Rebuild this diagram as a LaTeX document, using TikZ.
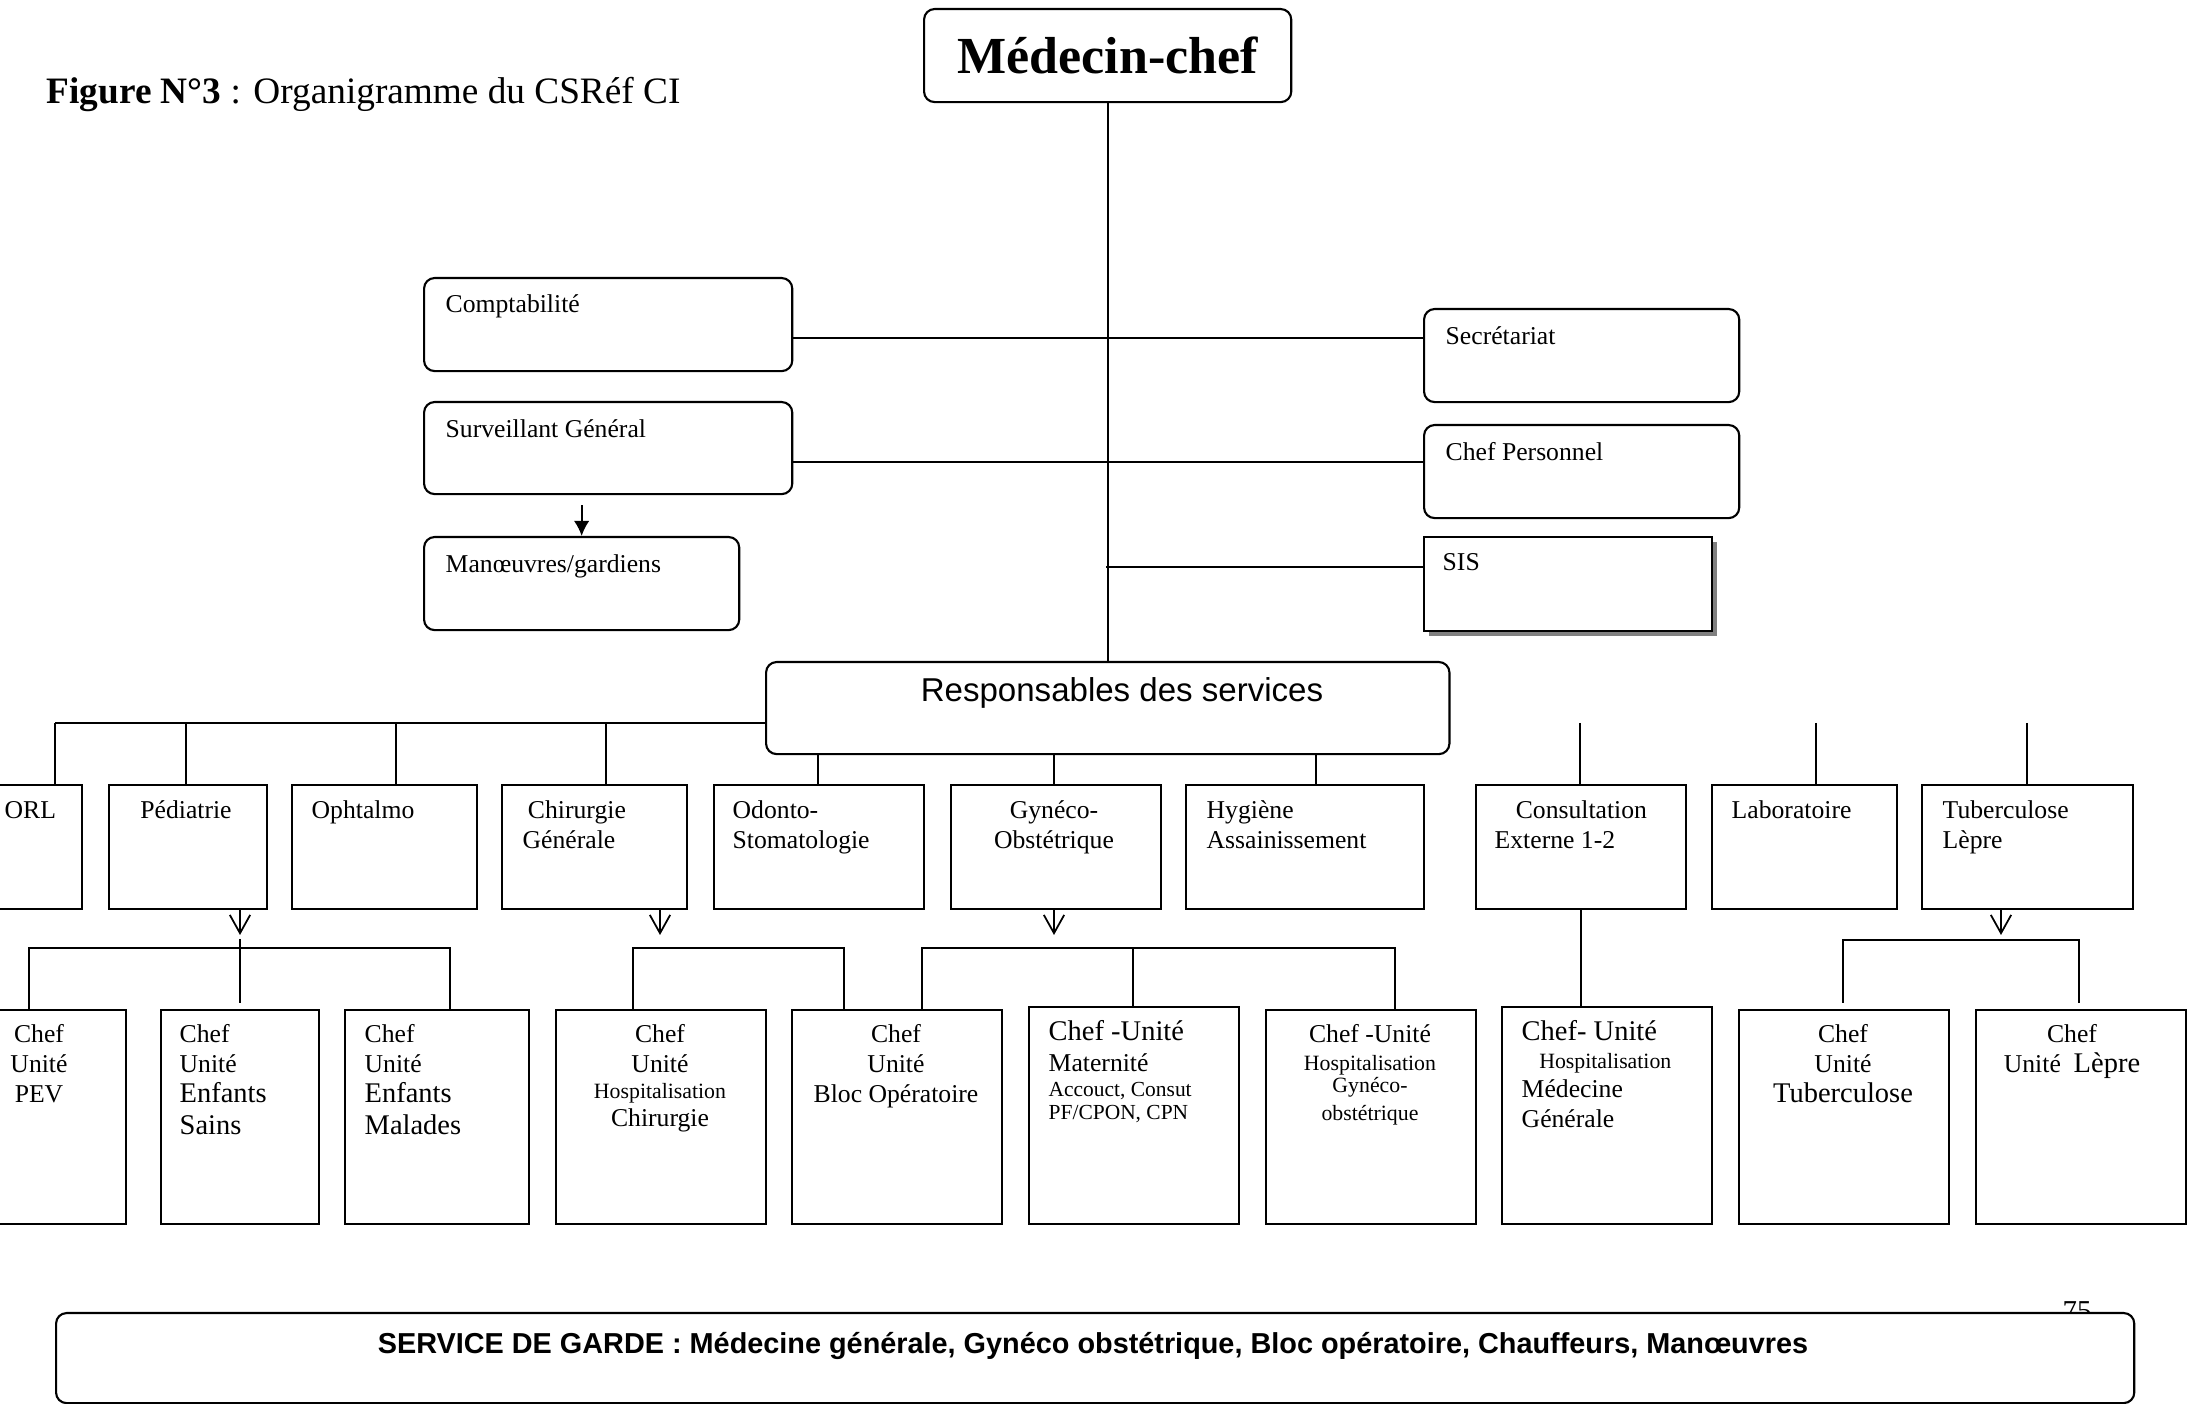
\documentclass[tikz,border=0pt]{standalone}
\usepackage{fontspec}
\setmainfont{Liberation Serif}
\setsansfont{Liberation Sans}
\usetikzlibrary{arrows.meta,shadows}

\newcommand{\fn}{\fontsize{7.3}{8.4}\selectfont}
\newcommand{\fg}{\fontsize{8.1}{8.4}\selectfont}
\newcommand{\fp}{\fontsize{6.2}{7}\selectfont}
\newcommand{\fs}{\fontsize{6.1}{7}\selectfont}
\newcommand{\rows}[2]{\begin{tabular}[t]{@{}#1@{}}#2\end{tabular}}

\begin{document}
\begin{tikzpicture}[x=0.01cm, y=-0.01cm,
    rbox/.style={draw, line width=0.6pt, rounded corners=3pt, anchor=north west, inner sep=0pt, minimum height=0.93cm},
    sbox/.style={draw, line width=0.6pt, anchor=north west, inner sep=0pt},
    lbl/.style={font=\fn, inner sep=0pt, anchor=base west},
    clbl/.style={lbl, anchor=base},
    link/.style={line width=0.5pt},
    vtip/.style={-{Straight Barb[length=5.2pt, width=5.8pt]}}]

    \useasboundingbox (0,0) rectangle (2196,1404);
    \clip (0,0) rectangle (2196,1404);

    % Title and head
    \node[font=\fontsize{10.6}{12}\selectfont, inner sep=0pt, anchor=base west] (TI) at (46,104) {\textbf{Figure N°3} : Organigramme du CSRéf CI};
    \node[rbox, minimum width=3.67cm, font=\fontsize{14.8}{17}\selectfont\bfseries] (MC) at (923,8) {Médecin-chef};

    % Draw the staff boxes
    \node[rbox, minimum width=3.68cm] (CPT) at (423,277) {};
    \node[rbox, minimum width=3.68cm, minimum height=0.92cm] (SUR) at (423,401) {};
    \node[rbox, minimum width=3.15cm] (MAN) at (423,536) {};
    \node[rbox, minimum width=3.15cm] (SEC) at (1423,308) {};
    \node[rbox, minimum width=3.15cm] (CHP) at (1423,424) {};
    \node[sbox, minimum width=2.88cm, minimum height=0.94cm, fill=white,
        drop shadow={shadow xshift=1.4pt, shadow yshift=-1.4pt, fill=black!50, opacity=1}] (SIS) at (1423,536) {};

    \node[lbl] (CPTt) at (445,313) {Comptabilité};
    \node[lbl] (SURt) at (445,438) {Surveillant Général};
    \node[lbl] (MANt) at (445,573) {Manœuvres/gardiens};
    \node[lbl] (SECt) at (1445,345) {Secrétariat};
    \node[lbl] (CHPt) at (1445,461) {Chef Personnel};
    \node[lbl] (SISt) at (1442,571) {SIS};

    \node[rbox, minimum width=6.83cm, minimum height=0.92cm] (RS) at (765,661) {};
    \node[font=\sffamily\fontsize{9.4}{11}\selectfont, inner sep=0pt, anchor=base] (RSt) at (1122,702) {Responsables des services};

    % Draw the trunk
    \coordinate (T1) at (1106,338);
    \coordinate (T2) at (1106,462);
    \coordinate (T3) at (1106,567);
    \draw[link] (MC.south) -- (MC.south |- RS.north);
    \draw[link] (CPT.east |- T1) -- (SEC.west |- T1);
    \draw[link] (SUR.east |- T2) -- (CHP.west |- T2);
    \draw[link] (T3) -- (SIS.west |- T3);
    \draw[link, -{Latex[length=4.3pt, width=4.4pt]}] (SUR.south -| MAN.north) ++(0,10) -- (MAN.north);

    % Draw the services
    \foreach \n/\x/\w in {ORL/-40/1.21cm, PED/108/1.58cm, OPH/291/1.85cm, CHI/501/1.85cm, ODO/713/2.10cm,
                          GYN/950/2.10cm, HYG/1185/2.38cm, CON/1475/2.10cm, LAB/1711/1.85cm, TUB/1921/2.11cm}
        \node[sbox, minimum width=\w, minimum height=1.24cm] (\n) at (\x,784) {};

    \node[lbl] (ORLt) at (4,819) {ORL};
    \node[clbl] (PEDt) at (186,819) {Pédiatrie};
    \node[lbl] (OPHt) at (311,819) {Ophtalmo};
    \node[lbl] (CHIt) at (522,819) {\rows{l}{\hspace*{1.5pt}Chirurgie\\Générale}};
    \node[lbl] (ODOt) at (732,819) {\rows{l}{Odonto-\\Stomatologie}};
    \node[clbl] (GYNt) at (1054,819) {\rows{c}{Gynéco-\\Obstétrique}};
    \node[lbl] (HYGt) at (1206,819) {\rows{l}{Hygiène\\Assainissement}};
    \node[lbl] (CONt) at (1494,819) {\rows{l}{\hspace*{6pt}Consultation\\Externe 1-2}};
    \node[lbl] (LABt) at (1731,819) {Laboratoire};
    \node[lbl] (TUBt) at (1942,819) {\rows{l}{Tuberculose\\Lèpre}};

    \coordinate (H1) at (55,723);
    \draw[link] (H1) -- (RS.west |- H1);
    \foreach \n/\x in {ORL/55, PED/186, OPH/396, CHI/606}
        \draw[link] (\x,723) -- (\n.north -| \x,0);
    \foreach \n/\x in {ODO/818, GYN/1054, HYG/1316}
        \draw[link] (RS.south -| \x,0) -- (\n.north -| \x,0);
    \foreach \n/\x in {CON/1580, LAB/1816, TUB/2027}
        \draw[link] (\x,723) -- (\n.north -| \x,0);

    % Draw the units
    \foreach \n/\x/\y/\w/\h in {U1/-60/1009/1.85cm/2.14cm, U2/160/1009/1.58cm/2.14cm, U3/344/1009/1.84cm/2.14cm,
                                U4/555/1009/2.10cm/2.14cm, U5/791/1009/2.10cm/2.14cm, U6/1028/1006/2.10cm/2.17cm,
                                U7/1265/1009/2.10cm/2.14cm, U8/1501/1006/2.10cm/2.17cm, U9/1738/1009/2.10cm/2.14cm,
                                U10/1975/1009/2.10cm/2.14cm}
        \node[sbox, minimum width=\w, minimum height=\h] (\n) at (\x,\y) {};

    \node[clbl] (U1t) at (39,1043) {\rows{c}{Chef\\Unité\\PEV}};
    \node[lbl] (U2t) at (179,1043) {\rows{l}{Chef\\Unité\\{\fg Enfants}\\[0.8pt]{\fg Sains}}};
    \node[lbl] (U3t) at (364,1043) {\rows{l}{Chef\\Unité\\{\fg Enfants}\\[0.8pt]{\fg Malades}}};
    \node[clbl] (U4t) at (660,1043) {\rows{c}{Chef\\Unité\\[-1pt]{\fp Hospitalisation}\\[-0.4pt]Chirurgie}};
    \node[clbl] (U5t) at (896,1043) {\rows{c}{Chef\\Unité\\Bloc Opératoire}};
    \node[lbl] (U6t) at (1048,1041) {\rows{l}{{\fg Chef -Unité}\\[0.4pt]Maternité\\[-1.3pt]{\fs Accouct, Consut}\\[-1.9pt]{\fs PF/CPON, CPN}}};
    \node[clbl] (U7t) at (1370,1043) {\rows{c}{Chef -Unité\\[-0.7pt]{\fp Hospitalisation}\\[-1.9pt]{\fp Gynéco-}\\[-0.7pt]{\fp obstétrique}}};
    \node[lbl] (U8t) at (1521,1041) {\rows{l}{{\fg Chef- Unité}\\[-0.7pt]{\fp\hspace*{5pt}Hospitalisation}\\Médecine\\Générale}};
    \node[clbl] (U9t) at (1843,1043) {\rows{c}{Chef\\Unité\\{\fg Tuberculose}}};
    \node[clbl] (U10t) at (2072,1043) {\rows{c}{Chef\\Unité\ \ {\fg Lèpre}}};

    % Draw the arrows and brackets
    \foreach \n/\x in {PED/240, CHI/660, GYN/1054, TUB/2001}
        \draw[link, vtip] (\n.south -| \x,0) -- (\x,935);
    \coordinate (P1) at (240,939);
    \coordinate (P2) at (240,1003);
    \draw[link] (P1) -- (P2);
    \draw[link] (U1.north -| 29,0) -- (29,948) -- (450,948) -- (U3.north -| 450,0);
    \draw[link] (U4.north -| 633,0) -- (633,948) -- (844,948) -- (U5.north -| 844,0);
    \draw[link] (U5.north -| 922,0) -- (922,948) -- (1395,948) -- (U7.north -| 1395,0);
    \draw[link] (1133,948) -- (U6.north -| 1133,0);
    \draw[link] (U9.north -| 1843,0) ++(0,-6) -- (1843,940) -- (2079,940) -- (2079,1003);
    \draw[link] (CON.south) -- (CON.south |- U8.north);

    % Service de garde
    \node[font=\fontsize{8.2}{9}\selectfont, inner sep=0pt, anchor=base] (PG) at (2077,1321) {75};
    \node[rbox, fill=white, minimum width=20.77cm, minimum height=0.90cm] (GA) at (55,1312) {};
    \node[font=\sffamily\bfseries\fontsize{8.2}{10}\selectfont, inner sep=0pt, anchor=base] (GAt) at (1093,1354)
        {SERVICE DE GARDE : Médecine générale, Gynéco obstétrique, Bloc opératoire, Chauffeurs, Manœuvres};
\end{tikzpicture}
\end{document}
